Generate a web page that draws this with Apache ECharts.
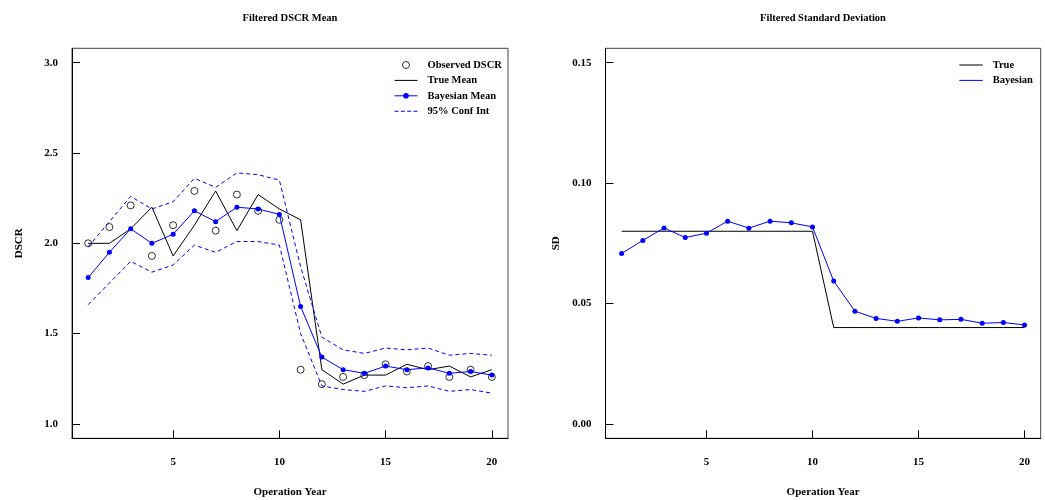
<!DOCTYPE html>
<html>
<head>
<meta charset="utf-8">
<title>Filtered DSCR</title>
<script src="https://cdn.jsdelivr.net/npm/echarts@6/dist/echarts.min.js"></script>
<style>
  html, body { margin: 0; padding: 0; background: #fff; }
  #chart { width: 1045px; height: 500px; }
</style>
</head>
<body>
<div id="chart"></div>
<script>
// Operation years on the x axis of both panels
const years = [1, 2, 3, 4, 5, 6, 7, 8, 9, 10, 11, 12, 13, 14, 15, 16, 17, 18, 19, 20];

// Left panel: DSCR mean filtering
const observedDSCR = [2.00, 2.09, 2.21, 1.93, 2.10, 2.29, 2.07, 2.27, 2.18, 2.13,
                      1.30, 1.22, 1.26, 1.27, 1.33, 1.29, 1.32, 1.26, 1.30, 1.26];
const trueMean     = [2.00, 2.00, 2.08, 2.20, 1.93, 2.10, 2.29, 2.07, 2.27, 2.19,
                      2.13, 1.30, 1.22, 1.27, 1.27, 1.33, 1.30, 1.32, 1.26, 1.30];
const bayesMean    = [1.81, 1.95, 2.08, 2.00, 2.05, 2.18, 2.12, 2.20, 2.19, 2.16,
                      1.65, 1.37, 1.30, 1.28, 1.32, 1.30, 1.31, 1.28, 1.29, 1.27];
const ciUpper      = [1.98, 2.12, 2.26, 2.19, 2.23, 2.36, 2.31, 2.39, 2.38, 2.35,
                      1.87, 1.48, 1.41, 1.39, 1.42, 1.41, 1.42, 1.38, 1.39, 1.38];
const ciLower      = [1.66, 1.78, 1.90, 1.84, 1.88, 1.99, 1.95, 2.01, 2.01, 1.99,
                      1.50, 1.21, 1.19, 1.18, 1.21, 1.20, 1.21, 1.18, 1.19, 1.17];

// Right panel: standard deviation filtering
const trueSD  = [0.08, 0.08, 0.08, 0.08, 0.08, 0.08, 0.08, 0.08, 0.08, 0.08,
                 0.04, 0.04, 0.04, 0.04, 0.04, 0.04, 0.04, 0.04, 0.04, 0.04];
const bayesSD = [0.0708, 0.0762, 0.0814, 0.0774, 0.0792, 0.0842, 0.0813, 0.0842, 0.0835, 0.0818,
                 0.0593, 0.0468, 0.0438, 0.0426, 0.0440, 0.0432, 0.0434, 0.0418, 0.0421, 0.0411];

// Tick positions
const xTicks = [5, 10, 15, 20];
const meanTicks = [1.0, 1.5, 2.0, 2.5, 3.0];
const sdTicks = [0.00, 0.05, 0.10, 0.15];

const FONT = 'Liberation Serif, Times New Roman, serif';
const BLUE = '#0000ff';
const pairs = vals => years.map((x, i) => [x, vals[i]]);

// Legend keys: a plain stroke and a dashed stroke
const SOLID_KEY = 'path://M0,0h23v1h-23z';
const DASHED_KEY = 'path://M0,0h4v1h-4zM6.33,0h4v1h-4zM12.67,0h4v1h-4zM19,0h4v1h-4z';

const txt = { fontFamily: FONT, fontWeight: 'bold', fontSize: 11, color: '#000' };

function xAxisFor(gridIndex) {
  return {
    type: 'value', gridIndex: gridIndex, min: 0.24, max: 20.76,
    name: 'Operation Year', nameLocation: 'middle', nameGap: 48,
    nameTextStyle: Object.assign({}, txt),
    axisLine: { show: true, onZero: false, lineStyle: { color: '#000', width: 1 } },
    axisTick: { show: true, inside: true, length: 8, customValues: xTicks, lineStyle: { color: '#000', width: 1 } },
    axisLabel: Object.assign({ show: true, margin: 18, customValues: xTicks, formatter: v => String(v) }, txt),
    splitLine: { show: false }
  };
}

function yAxisFor(gridIndex, min, max, ticks, digits, title, gap) {
  return {
    type: 'value', gridIndex: gridIndex, min: min, max: max,
    name: title, nameLocation: 'middle', nameGap: gap,
    nameTextStyle: Object.assign({}, txt),
    axisLine: { show: true, onZero: false, lineStyle: { color: '#000', width: 1 } },
    axisTick: { show: true, inside: true, length: 8, customValues: ticks, lineStyle: { color: '#000', width: 1 } },
    axisLabel: Object.assign({ show: true, margin: 14, customValues: ticks, formatter: v => v.toFixed(digits) }, txt),
    splitLine: { show: false }
  };
}

const legendText = { fontFamily: FONT, fontWeight: 'bold', fontSize: 10.5, color: '#000', lineHeight: 12,
  padding: [0, 0, 0, 5] };

const option = {
  animation: false,
  backgroundColor: '#fff',
  graphic: [
    { type: 'text', x: 290, y: 18, style: { text: 'Filtered DSCR Mean', textAlign: 'center', textVerticalAlign: 'middle',
      font: 'bold 10.5px ' + FONT, fill: '#000' } },
    { type: 'text', x: 823, y: 18, style: { text: 'Filtered Standard Deviation', textAlign: 'center', textVerticalAlign: 'middle',
      font: 'bold 10.5px ' + FONT, fill: '#000' } }
  ],
  grid: [
    { left: 72, top: 48.3, width: 436, height: 390, show: true, borderColor: '#444', borderWidth: 1,
      backgroundColor: 'transparent', containLabel: false, outerBoundsMode: 'none' },
    { left: 605.5, top: 48.3, width: 435.2, height: 390, show: true, borderColor: '#444', borderWidth: 1,
      backgroundColor: 'transparent', containLabel: false, outerBoundsMode: 'none' }
  ],
  xAxis: [xAxisFor(0), xAxisFor(1)],
  yAxis: [
    yAxisFor(0, 0.92, 3.08, meanTicks, 1, 'DSCR', 47),
    yAxisFor(1, -0.006, 0.156, sdTicks, 2, 'SD', 44)
  ],
  legend: [
    {
      orient: 'vertical', left: 394, top: 59, padding: 0, itemWidth: 23, itemHeight: 7, itemGap: 3.4,
      selectedMode: false, textStyle: legendText,
      data: [
        { name: 'Observed DSCR', itemStyle: { color: 'rgba(255,255,255,0)', borderColor: '#000', borderWidth: 1 } },
        { name: 'True Mean', icon: SOLID_KEY },
        { name: 'Bayesian Mean', lineStyle: { width: 1 } },
        { name: '95% Conf Int', icon: DASHED_KEY }
      ]
    },
    {
      orient: 'vertical', left: 959.3, top: 59, padding: 0, itemWidth: 23.4, itemHeight: 7, itemGap: 3.4,
      selectedMode: false, textStyle: legendText,
      data: [
        { name: 'True', icon: SOLID_KEY },
        { name: 'Bayesian', icon: SOLID_KEY }
      ]
    }
  ],
  series: [
    {
      name: 'Observed DSCR', type: 'scatter', xAxisIndex: 0, yAxisIndex: 0,
      symbol: 'circle', symbolSize: 7, symbolKeepAspect: true,
      itemStyle: { color: 'rgba(255,255,255,0)', borderColor: '#000', borderWidth: 1 },
      data: pairs(observedDSCR), z: 2
    },
    {
      name: 'True Mean', type: 'line', xAxisIndex: 0, yAxisIndex: 0,
      showSymbol: false, symbol: 'none', lineStyle: { color: '#000', width: 1 }, itemStyle: { color: '#000' },
      data: pairs(trueMean), z: 3
    },
    {
      name: 'Bayesian Mean', type: 'line', xAxisIndex: 0, yAxisIndex: 0,
      symbol: 'circle', symbolSize: 5, showSymbol: true,
      lineStyle: { color: BLUE, width: 1 }, itemStyle: { color: BLUE, borderWidth: 0 },
      data: pairs(bayesMean), z: 4
    },
    {
      name: '95% Conf Int', type: 'line', xAxisIndex: 0, yAxisIndex: 0,
      showSymbol: false, symbol: 'none', lineStyle: { color: BLUE, width: 1, type: [4, 3] }, itemStyle: { color: BLUE },
      data: pairs(ciUpper), z: 3
    },
    {
      name: '95% Conf Int', type: 'line', xAxisIndex: 0, yAxisIndex: 0,
      showSymbol: false, symbol: 'none', lineStyle: { color: BLUE, width: 1, type: [4, 3] }, itemStyle: { color: BLUE },
      data: pairs(ciLower), z: 3
    },
    {
      name: 'True', type: 'line', xAxisIndex: 1, yAxisIndex: 1,
      showSymbol: false, symbol: 'none', lineStyle: { color: '#000', width: 1 }, itemStyle: { color: '#000' },
      data: pairs(trueSD), z: 3
    },
    {
      name: 'Bayesian', type: 'line', xAxisIndex: 1, yAxisIndex: 1,
      symbol: 'circle', symbolSize: 5, showSymbol: true,
      lineStyle: { color: BLUE, width: 1 }, itemStyle: { color: BLUE, borderWidth: 0 },
      data: pairs(bayesSD), z: 4
    }
  ]
};

const chart = echarts.init(document.getElementById('chart'), null, { renderer: 'canvas' });
chart.setOption(option);
</script>
</body>
</html>
